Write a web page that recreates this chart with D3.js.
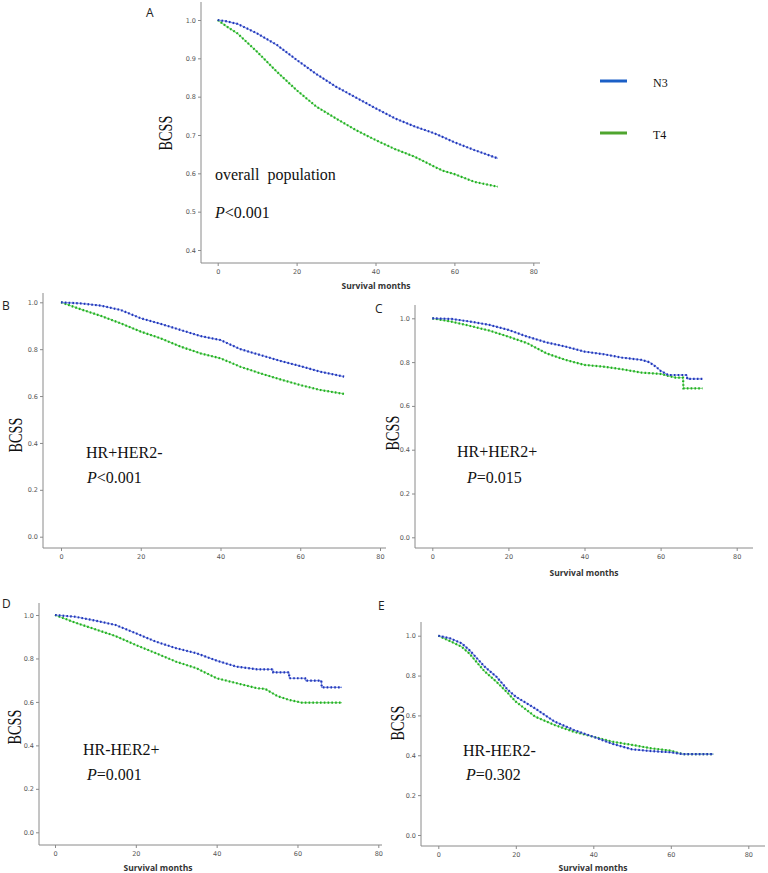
<!DOCTYPE html>
<html><head><meta charset="utf-8">
<script src="https://cdn.jsdelivr.net/npm/d3@7"></script>
<style>body{margin:0;background:#fff}svg{display:block}</style>
</head><body>
<svg id="chart" width="768" height="873"></svg>
<script>
// ---- data ----
const seriesNames = ["N3", "T4"];
const xTicks = [0, 20, 40, 60, 80];
const yTicksA = [0.4, 0.5, 0.6, 0.7, 0.8, 0.9, 1.0];
const yTicksSub = [0.0, 0.2, 0.4, 0.6, 0.8, 1.0];

const aN3Months = [0,2,5,10,15,20,25,30,35,40,45,50,55,57,60,65,71];
const aN3 = [1.0,0.997,0.99,0.965,0.935,0.896,0.859,0.826,0.798,0.770,0.743,0.722,0.704,0.695,0.681,0.661,0.639];
const aT4Months = [0,2,5,10,15,20,25,30,35,40,45,50,55,57,60,65,71];
const aT4 = [1.0,0.985,0.965,0.917,0.865,0.817,0.774,0.743,0.713,0.687,0.663,0.643,0.617,0.607,0.598,0.578,0.565];

const bN3Months = [0,5,10,15,20,25,30,35,40,45,50,55,60,65,71];
const bN3 = [1.0,0.995,0.986,0.967,0.932,0.908,0.882,0.856,0.839,0.80,0.775,0.75,0.728,0.704,0.683];
const bT4Months = [0,5,10,15,20,25,30,35,40,45,50,55,60,65,71];
const bT4 = [1.0,0.97,0.942,0.91,0.875,0.846,0.811,0.782,0.761,0.725,0.697,0.671,0.647,0.626,0.609];

const cN3Months = [0,5,10,15,20,25,30,35,40,45,50,55,57,59,60,62,66.9,67,71];
const cN3 = [1.0,0.997,0.985,0.97,0.947,0.916,0.89,0.871,0.848,0.836,0.82,0.81,0.80,0.776,0.76,0.741,0.741,0.723,0.723];
const cT4Months = [0,5,10,15,20,25,30,35,40,45,50,55,60,62,64,65.9,66,71];
const cT4 = [1.0,0.985,0.965,0.944,0.916,0.886,0.84,0.81,0.787,0.779,0.767,0.752,0.746,0.737,0.729,0.729,0.68,0.68];

const dN3Months = [0,5,10,15,20,25,30,35,40,45,50,53.9,54,57.9,58,61.9,62,65.9,66,71];
const dN3 = [1.0,0.992,0.974,0.954,0.916,0.877,0.847,0.824,0.79,0.762,0.75,0.75,0.736,0.736,0.709,0.709,0.698,0.698,0.667,0.667];
const dT4Months = [0,5,10,15,20,25,30,35,40,45,50,52,55,58,61,71];
const dT4 = [1.0,0.965,0.934,0.903,0.862,0.824,0.785,0.755,0.709,0.686,0.663,0.66,0.627,0.609,0.597,0.597];

const eN3Months = [0,3,6,8,10,12,15,18,20,25,30,35,40,45,50,55,60,63,71];
const eN3 = [1.0,0.987,0.962,0.928,0.886,0.844,0.794,0.727,0.694,0.635,0.569,0.527,0.493,0.457,0.43,0.421,0.415,0.406,0.406];
const eT4Months = [0,3,6,8,10,12,15,18,20,25,30,35,40,45,50,55,60,63,71];
const eT4 = [1.0,0.973,0.945,0.911,0.865,0.82,0.769,0.711,0.669,0.594,0.552,0.518,0.493,0.468,0.452,0.435,0.423,0.406,0.406];

const panelLabels = ["A","B","C","D","E"];
const groupNames = ["overall  population","HR+HER2-","HR+HER2+","HR-HER2+","HR-HER2-"];
const pOps = ["<","<","=","=","="];
const pValues = ["0.001","0.001","0.015","0.001","0.302"];

// ---- layout ----
const layout = [
  {ax:201, top:2,   ay:263, right:540, x0:217.7, x80:533.3, yHi:20,    yLo:250,   lo:0.4, yt:yTicksA, fmt:".1f",
   lab:[146,17], bcss:[165,133], t1:[215,180], t2:[215,218], xl:[376,289]},
  {ax:43,  top:293, ay:548, right:386, x0:61,    x80:380,   yHi:302.3, yLo:536.7, lo:0.0, yt:yTicksSub, fmt:".1f",
   lab:[2,310],  bcss:[15,435],  t1:[86,458],  t2:[87,483],  xl:null},
  {ax:415, top:305, ay:548, right:753, x0:432.3, x80:736.7, yHi:318.3, yLo:537.3, lo:0.0, yt:yTicksSub, fmt:".1f",
   lab:[375,313],bcss:[392,433], t1:[457,457], t2:[467,483], xl:[584,576]},
  {ax:39,  top:603, ay:845, right:382, x0:55,    x80:378.3, yHi:615,   yLo:832.3, lo:0.0, yt:yTicksSub, fmt:".1f",
   lab:[2,608],  bcss:[14,727],  t1:[83,755],  t2:[87,780],  xl:[158,871]},
  {ax:421, top:622, ay:846, right:765, x0:438.3, x80:748.3, yHi:635.7, yLo:835,   lo:0.0, yt:yTicksSub, fmt:".1f",
   lab:[378,610],bcss:[397,723], t1:[463,756], t2:[466,780], xl:[593,871]}
];
const seriesData = [
  [[aN3Months,aN3],[aT4Months,aT4]],
  [[bN3Months,bN3],[bT4Months,bT4]],
  [[cN3Months,cN3],[cT4Months,cT4]],
  [[dN3Months,dN3],[dT4Months,dT4]],
  [[eN3Months,eN3],[eT4Months,eT4]]
];
const lineLight = ["#7f95e6", "#86d886"];
const lineDark  = ["#2336b8", "#21b021"];
const legendColors = ["#1b5fc6", "#4fa52f"];

const svg = d3.select("#chart");
const axisColor = "#8a8a8a";

layout.forEach((L, i) => {
  const g = svg.append("g");
  const x = d3.scaleLinear().domain([0, 80]).range([L.x0, L.x80]);
  const y = d3.scaleLinear().domain([L.lo, 1.0]).range([L.yLo, L.yHi]);

  g.append("line").attr("x1", L.ax).attr("x2", L.ax).attr("y1", L.top).attr("y2", L.ay)
    .attr("stroke", axisColor).attr("stroke-width", 1);
  g.append("line").attr("x1", L.ax).attr("x2", L.right).attr("y1", L.ay).attr("y2", L.ay)
    .attr("stroke", axisColor).attr("stroke-width", 1);

  const yAx = g.append("g").attr("transform", `translate(${L.ax},0)`)
    .call(d3.axisLeft(y).tickValues(L.yt).tickFormat(d3.format(L.fmt)).tickSize(3).tickPadding(2));
  yAx.select(".domain").remove();
  yAx.selectAll("line").attr("stroke", axisColor);
  yAx.selectAll("text").attr("font-family", "DejaVu Sans, sans-serif").attr("font-size", 6.5).attr("fill", "#555");

  const xAx = g.append("g").attr("transform", `translate(0,${L.ay})`)
    .call(d3.axisBottom(x).tickValues(xTicks).tickFormat(d3.format("d")).tickSize(3).tickPadding(3));
  xAx.select(".domain").remove();
  xAx.selectAll("line").attr("stroke", axisColor);
  xAx.selectAll("text").attr("font-family", "DejaVu Sans, sans-serif").attr("font-size", 6.5).attr("fill", "#555");

  const line = d3.line().x(d => x(d[0])).y(d => y(d[1]));
  [1, 0].forEach(si => {
    const [ms, vs] = seriesData[i][si];
    const pts = ms.map((m, k) => [m, vs[k]]);
    g.append("path").datum(pts).attr("d", line).attr("fill", "none")
      .attr("stroke", lineLight[si]).attr("stroke-width", 1.2);
    g.append("path").datum(pts).attr("d", line).attr("fill", "none")
      .attr("stroke", lineDark[si]).attr("stroke-width", 2.2).attr("stroke-dasharray", "1.6,2.2");
  });

  g.append("text").attr("x", L.lab[0]).attr("y", L.lab[1]).text(panelLabels[i])
    .attr("font-family", "Open Sans, sans-serif").attr("font-size", 12).attr("fill", "#222");

  g.append("text").attr("transform", `translate(${L.bcss[0]},${L.bcss[1]}) rotate(-90) scale(0.75,1)`)
    .attr("text-anchor", "middle").attr("dy", "0.35em").text("BCSS")
    .attr("font-family", "Liberation Serif, serif").attr("font-size", 19).attr("fill", "#111");

  g.append("text").attr("x", L.t1[0]).attr("y", L.t1[1]).text(groupNames[i])
    .attr("font-family", "Liberation Serif, serif").attr("font-size", 16).attr("fill", "#111")
    .style("white-space", "pre");
  const t2 = g.append("text").attr("x", L.t2[0]).attr("y", L.t2[1])
    .attr("font-family", "Liberation Serif, serif").attr("font-size", 16).attr("fill", "#111");
  t2.append("tspan").attr("font-style", "italic").text("P");
  t2.append("tspan").text(pOps[i] + pValues[i]);

  if (L.xl) {
    g.append("text").attr("x", L.xl[0]).attr("y", L.xl[1]).attr("text-anchor", "middle")
      .text("Survival months").attr("font-family", "Open Sans, sans-serif")
      .attr("font-weight", "bold").attr("font-size", 8.5).attr("fill", "#333");
  }
});

const legY = [81, 133];
seriesNames.forEach((name, i) => {
  svg.append("line").attr("x1", 600).attr("x2", 627).attr("y1", legY[i]).attr("y2", legY[i])
    .attr("stroke", legendColors[i]).attr("stroke-width", 3);
  svg.append("text").attr("x", 653).attr("y", legY[i] + 6).text(name)
    .attr("font-family", "Liberation Serif, serif").attr("font-size", 12).attr("fill", "#111");
});
</script>
</body></html>
